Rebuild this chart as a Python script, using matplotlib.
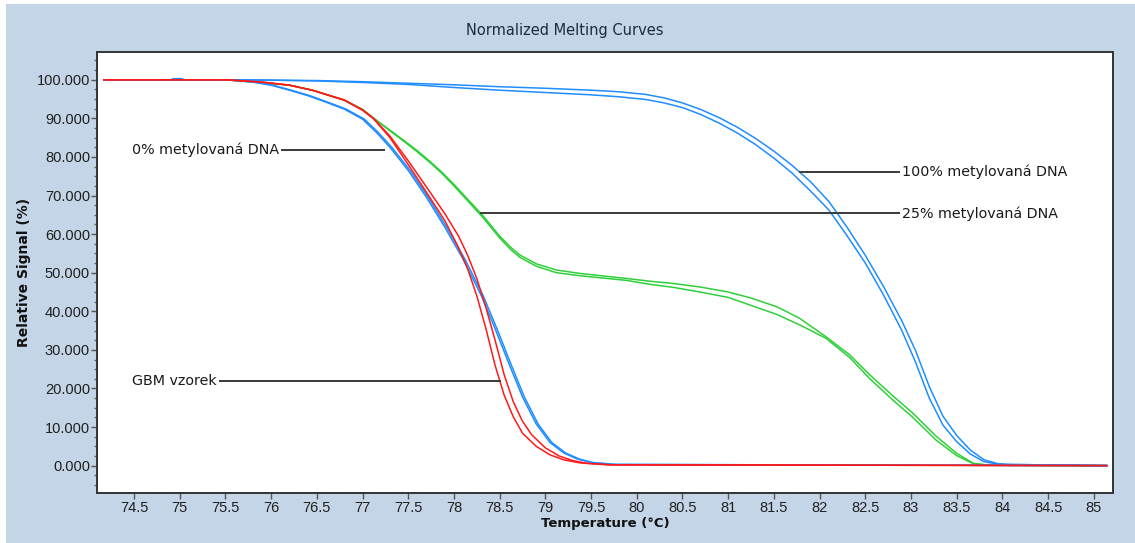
import matplotlib
matplotlib.use("Agg")
import matplotlib.pyplot as plt
from matplotlib.patches import Rectangle
from matplotlib.ticker import MultipleLocator, FormatStrFormatter

# ---- data: normalized melting curves (temperature in °C, relative signal in %) ----
gbm_a_t = [74.17, 75.5, 75.9, 76.2, 76.45, 76.8, 77.0, 77.12, 77.3, 77.5, 77.7, 77.9,
           78.05, 78.15, 78.25, 78.35, 78.45, 78.55, 78.65, 78.75, 78.9, 79.05, 79.2,
           79.38, 79.7, 85.14]
gbm_a_v = [100, 100, 99.4, 98.6, 97.3, 94.7, 92.1, 89.9, 85.0, 78.0, 70.8, 63.5,
           56.5, 51.0, 44.0, 35.5, 26.0, 18.2, 12.6, 8.4, 5.0, 2.8, 1.5,
           0.7, 0.2, 0.0]
gbm_b_t = [74.17, 75.5, 75.9, 76.2, 76.45, 76.8, 77.0, 77.12, 77.3, 77.5, 77.7, 77.9,
           78.05, 78.15, 78.25, 78.35, 78.45, 78.55, 78.65, 78.75, 78.85, 79.0, 79.15,
           79.3, 79.45, 79.7, 85.14]
gbm_b_v = [100, 100, 99.4, 98.6, 97.3, 94.8, 92.2, 90.0, 85.4, 79.0, 72.2, 65.3,
           59.5, 54.5, 48.5, 41.0, 32.5, 23.5, 16.5, 11.5, 8.0, 4.6, 2.5,
           1.3, 0.6, 0.2, 0.0]

m0_a_t = [74.17, 75.5, 75.8, 76.0, 76.2, 76.4, 76.6, 76.8, 77.0, 77.15, 77.3, 77.5,
          77.7, 77.9, 78.1, 78.3, 78.45, 78.6, 78.75, 78.9, 79.05, 79.2, 79.35, 79.5,
          79.75, 85.14]
m0_a_v = [100, 100, 99.4, 98.6, 97.3, 95.9, 94.2, 92.4, 89.8, 86.4, 82.5, 76.5,
          69.5, 61.8, 53.5, 44.0, 35.5, 26.5, 17.8, 10.8, 6.0, 3.3, 1.7, 0.8,
          0.3, 0.0]
m0_b_t = [74.17, 75.5, 75.82, 76.02, 76.22, 76.42, 76.62, 76.82, 77.02, 77.17, 77.32, 77.52,
          77.72, 77.92, 78.12, 78.32, 78.47, 78.62, 78.77, 78.92, 79.07, 79.22, 79.37, 79.52,
          79.77, 85.14]
m0_b_v = [100, 100, 99.4, 98.6, 97.3, 95.9, 94.2, 92.4, 89.8, 86.4, 82.5, 76.5,
          69.5, 61.8, 53.5, 44.0, 35.5, 26.5, 17.8, 10.8, 6.0, 3.3, 1.7, 0.8,
          0.3, 0.0]

m25_t = [74.17, 75.5, 75.9, 76.2, 76.45, 76.8, 77.0, 77.19, 77.32, 77.45, 77.6, 77.74,
         77.87, 78.0, 78.14, 78.32, 78.5, 78.62, 78.72, 78.9, 79.12, 79.38, 79.89, 80.14,
         80.4, 80.69, 81.0, 81.24, 81.53, 81.78, 82.07, 82.33, 82.55, 82.81, 83.02,
         83.28, 83.5, 83.68, 83.85, 85.14]
m25_a_v = [100, 100, 99.3, 98.6, 97.3, 94.7, 92.3, 88.8, 86.6, 84.3, 81.6, 78.8,
           76.0, 72.9, 69.3, 64.7, 59.5, 56.6, 54.6, 52.3, 50.7, 49.8, 48.5, 47.8,
           47.2, 46.3, 45.0, 43.5, 41.2, 38.2, 33.4, 28.7, 23.5, 17.9, 13.6,
           7.5, 3.2, 0.6, 0.1, 0.0]
m25_b_v = [100, 100, 99.3, 98.6, 97.3, 94.7, 92.3, 88.8, 86.4, 84.1, 81.3, 78.5,
           75.7, 72.5, 68.9, 64.2, 59.0, 56.0, 54.0, 51.7, 50.0, 49.2, 48.0, 47.0,
           46.2, 45.0, 43.6, 41.6, 39.2, 36.5, 33.0, 28.0, 22.5, 16.8, 12.5,
           6.5, 2.6, 0.5, 0.1, 0.0]

m100_t = [74.17, 74.9, 74.93, 75.02, 75.05, 75.5, 76.0, 76.5, 77.0, 77.5, 78.0, 78.5,
          79.0, 79.5, 79.8, 80.1, 80.3, 80.5, 80.7, 80.9, 81.1, 81.3, 81.5, 81.7,
          81.9, 82.1, 82.3, 82.5, 82.7, 82.9, 83.05, 83.2, 83.35, 83.5, 83.65, 83.8,
          83.95, 84.06, 85.14]
m100_a_v = [100, 100, 100.3, 100.3, 100, 100, 99.9, 99.8, 99.5, 99.1, 98.7, 98.2,
            97.8, 97.3, 96.9, 96.2, 95.3, 94.0, 92.3, 90.2, 87.7, 84.8, 81.5, 77.8,
            73.6, 68.5, 61.8, 54.5, 46.4, 37.5, 29.8, 20.5, 12.8, 7.8, 4.0, 1.5,
            0.5, 0.3, 0.0]
m100_b_v = [100, 100, 100, 100, 100, 100, 99.9, 99.7, 99.3, 98.8, 98.0, 97.3,
            96.7, 96.1, 95.6, 94.9, 94.0, 92.8, 91.0, 88.8, 86.2, 83.2, 79.7, 75.8,
            71.2, 66.3, 59.6, 52.5, 44.2, 35.0, 26.8, 17.5, 10.5, 6.2, 3.0, 1.0,
            0.4, 0.3, 0.0]

# label text, (x, y) of the text anchor, and end of its leader line on the curve
labels = ["0% metylovaná DNA", "GBM vzorek", "100% metylovaná DNA", "25% metylovaná DNA"]
label_xy = [(74.48, 81.8), (74.48, 22.0), (82.9, 76.2), (82.9, 65.4)]
leader_end = [77.25, 78.52, 81.78, 78.28]

x_ticks = [74.5 + 0.5 * i for i in range(22)]
y_ticks = [0, 10, 20, 30, 40, 50, 60, 70, 80, 90, 100]

BLUE = "#1f8dff"
RED = "#ff1a1a"
GREEN = "#2fcf3a"
PANEL = "#c3d5e6"

fig = plt.figure(figsize=(11.35, 5.43), dpi=100, facecolor="white")
fig.patches.append(Rectangle((6 / 1135, 0), 1 - 6 / 1135, 1 - 4 / 543,
                             transform=fig.transFigure, facecolor=PANEL,
                             edgecolor="none", zorder=-10))

ax = fig.add_axes([97 / 1135, 50 / 543, 1016 / 1135, 441 / 543])
ax.set_facecolor("white")

lw = 1.1
ax.plot(m25_t, m25_a_v, color=GREEN, lw=lw)
ax.plot(m25_t, m25_b_v, color=GREEN, lw=lw)
ax.plot(m100_t, m100_a_v, color=BLUE, lw=lw)
ax.plot(m100_t, m100_b_v, color=BLUE, lw=lw)
ax.plot(m0_a_t, m0_a_v, color=BLUE, lw=lw)
ax.plot(m0_b_t, m0_b_v, color=BLUE, lw=lw)
ax.plot(gbm_a_t, gbm_a_v, color=RED, lw=lw)
ax.plot(gbm_b_t, gbm_b_v, color=RED, lw=lw)

ax.set_xlim(74.095, 85.21)
ax.set_ylim(-7.1, 107.2)

ax.set_xticks(x_ticks)
ax.set_xticklabels([f"{v:g}" for v in x_ticks])
ax.set_yticks(y_ticks)
ax.yaxis.set_major_formatter(FormatStrFormatter("%.3f"))
ax.yaxis.set_minor_locator(MultipleLocator(2.5))

for lab in ax.get_xticklabels() + ax.get_yticklabels():
    lab.set_fontfamily("Liberation Sans")
    lab.set_fontsize(10.5)
    lab.set_color("#202020")

ax.tick_params(axis="x", which="major", direction="out", length=4, width=1,
               color="#555555", pad=2)
ax.tick_params(axis="y", which="major", direction="out", length=4, width=1,
               color="#555555", pad=1)
ax.tick_params(axis="y", which="minor", direction="out", length=2.5, width=1,
               color="#666666")

for side in ["left", "bottom", "top", "right"]:
    ax.spines[side].set_color("#333333")
    ax.spines[side].set_linewidth(1.4)

ax.set_xlabel("Temperature (°C)", fontsize=9.5, fontweight="bold", color="#111111",
              labelpad=1)
ax.set_ylabel("Relative Signal (%)", fontsize=10, fontweight="bold", color="#111111",
              labelpad=4)

fig.text(0.498, 1 - 31 / 543, "Normalized Melting Curves", ha="center", va="center",
         fontsize=10.5, color="#1c2a44")

# annotation labels with leader lines
for text, (tx, ty), xe in zip(labels, label_xy, leader_end):
    t = ax.text(tx, ty, text, ha="left", va="center", fontsize=10.3, color="#1a1a1a",
                family="DejaVu Sans")
    fig.canvas.draw()
    bb = t.get_window_extent().transformed(ax.transData.inverted())
    if xe > tx:
        x0, x1 = bb.x1 + 0.02, xe
    else:
        x0, x1 = xe, tx - 0.02
    ax.plot([x0, x1], [ty, ty], color="#3a3a3a", lw=1.4, solid_capstyle="butt")

fig.savefig("out.png", dpi=100, facecolor=fig.get_facecolor())
